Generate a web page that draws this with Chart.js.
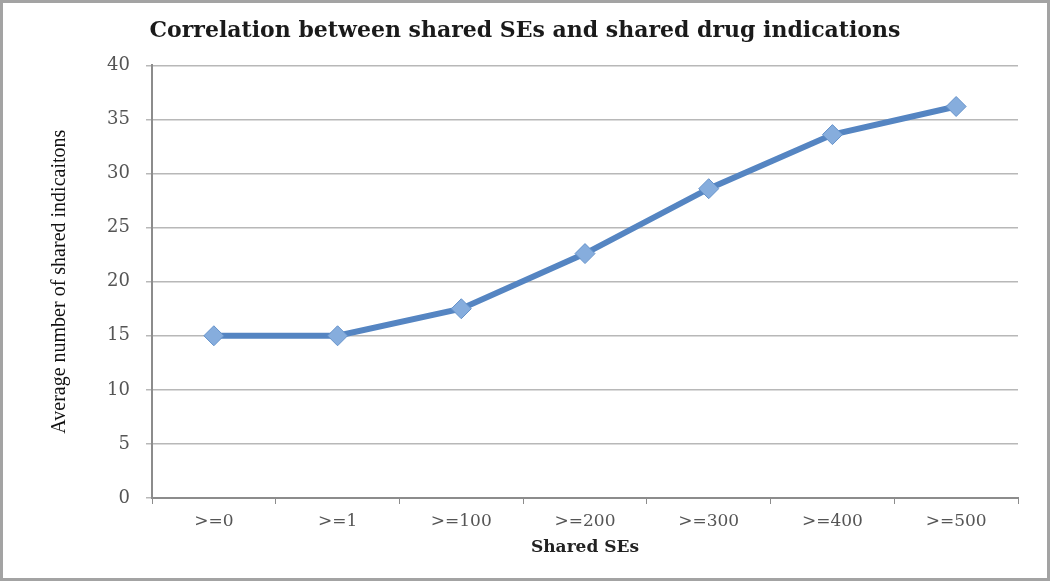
<!DOCTYPE html>
<html>
<head>
<meta charset="utf-8">
<script src="https://cdn.jsdelivr.net/npm/chart.js@4"></script>
<style>
  html, body { margin: 0; padding: 0; background: #fff; }
  #box { width: 1050px; height: 581px; box-sizing: border-box; border: 3px solid #a3a3a3; }
</style>
</head>
<body>
<div id="box"><canvas id="plots"></canvas></div>
<script>
// categories on the x-axis
var thresholds = [">=0", ">=1", ">=100", ">=200", ">=300", ">=400", ">=500"];
// average number of shared indications
var avgShared = [15, 15, 17.5, 22.6, 28.6, 33.6, 36.2];
// y-axis ticks
var yTicks = [0, 5, 10, 15, 20, 25, 30, 35, 40];

var plots = document.getElementById("plots");
new Chart(plots, {
    type: 'line',
    data: {
        labels: thresholds,
        datasets: [{
            data: avgShared,
            borderColor: "#5585c2",
            borderWidth: 6,
            pointStyle: 'rectRot',
            pointRadius: 10,
            pointHoverRadius: 10,
            pointBackgroundColor: "#86addd",
            pointBorderColor: "#6592ca",
            pointBorderWidth: 1,
            tension: 0,
            fill: false,
        }],
    },
    options: {
        responsive: true,
        maintainAspectRatio: false,
        animation: false,
        layout: { padding: { top: 0, right: 29, bottom: 0, left: 29 } },
        plugins: {
            legend: { display: false },
            tooltip: { enabled: false },
            title: {
                display: true,
                text: "Correlation between shared SEs and shared drug indications",
                color: "#1a1a1a",
                font: { family: "DejaVu Serif", size: 22, weight: 'bold' },
                padding: { top: 15, bottom: 21 },
            },
        },
        scales: {
            x: {
                offset: true,
                grid: { drawOnChartArea: false, offset: true, tickLength: 6, color: "#8c8c8c" },
                border: { color: "#8c8c8c", width: 2 },
                ticks: { color: "#555", padding: 7, font: { family: "DejaVu Serif", size: 17 } },
                title: {
                    display: true,
                    text: "Shared SEs",
                    color: "#222",
                    font: { family: "DejaVu Serif", size: 17, weight: 'bold' },
                    padding: { top: 0, bottom: 20 },
                },
                afterFit: function (scale) { scale.height = 80; },
            },
            y: {
                min: 0,
                max: 40,
                afterBuildTicks: function (scale) {
                    scale.ticks = yTicks.map(function (v) { return { value: v }; });
                },
                grid: { color: "#b8b8b8", lineWidth: 1.5, tickLength: 6 },
                border: { color: "#8c8c8c", width: 2 },
                ticks: { color: "#555", padding: 16, font: { family: "DejaVu Serif", size: 18 } },
                title: {
                    display: true,
                    text: "Average number of shared indicaitons",
                    color: "#111",
                    font: { family: "Liberation Serif", size: 20 },
                    padding: { top: 16, bottom: 0 },
                },
                afterFit: function (scale) { scale.width = 120; },
            },
        },
    },
});
</script>
</body>
</html>
